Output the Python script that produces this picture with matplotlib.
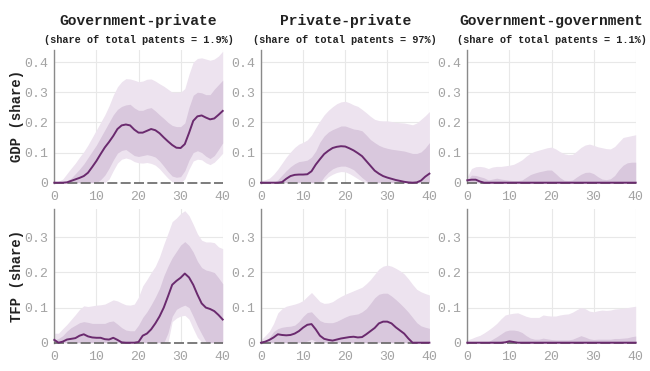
import matplotlib
matplotlib.use("Agg")
import matplotlib.pyplot as plt

# horizon (quarters)
horizon = list(range(41))

col_titles = ["Government-private", "Private-private", "Government-government"]
col_shares = ["(share of total patents = 1.9%)",
              "(share of total patents = 97%)",
              "(share of total patents = 1.1%)"]
row_labels = ["GDP (share)", "TFP (share)"]

zero = [0.0] * 41

# ---- GDP, government-private
gdp_gp_med = [0, 0, 0, 0.001, 0.006, 0.011, 0.016, 0.022, 0.033, 0.052, 0.072, 0.095, 0.117, 0.135,
              0.155, 0.178, 0.19, 0.193, 0.19, 0.176, 0.166, 0.166, 0.172, 0.178, 0.174, 0.164, 0.15,
              0.137, 0.125, 0.116, 0.115, 0.128, 0.165, 0.205, 0.22, 0.223, 0.216, 0.21, 0.213, 0.225, 0.238]
gdp_gp_hi90 = [0, 0.005, 0.012, 0.03, 0.048, 0.065, 0.085, 0.103, 0.125, 0.15, 0.175, 0.2, 0.225, 0.255,
               0.29, 0.318, 0.335, 0.345, 0.344, 0.34, 0.335, 0.337, 0.343, 0.344, 0.337, 0.328, 0.32,
               0.31, 0.3, 0.3, 0.3, 0.312, 0.36, 0.4, 0.412, 0.414, 0.41, 0.406, 0.41, 0.42, 0.436]
gdp_gp_hi68 = [0, 0.002, 0.004, 0.007, 0.015, 0.03, 0.045, 0.062, 0.083, 0.104, 0.125, 0.15, 0.175, 0.2,
               0.225, 0.243, 0.253, 0.258, 0.26, 0.248, 0.24, 0.24, 0.246, 0.249, 0.238, 0.225, 0.213,
               0.2, 0.19, 0.186, 0.186, 0.198, 0.25, 0.29, 0.3, 0.298, 0.292, 0.292, 0.31, 0.325, 0.34]
gdp_gp_lo68 = [0, 0, 0, 0, 0, 0, 0, 0, 0, 0, 0, 0.01, 0.025, 0.048, 0.075, 0.098, 0.107, 0.11, 0.1, 0.09,
               0.087, 0.09, 0.093, 0.09, 0.085, 0.072, 0.055, 0.037, 0.022, 0.018, 0.02, 0.04, 0.075,
               0.1, 0.106, 0.1, 0.088, 0.08, 0.09, 0.11, 0.132]
gdp_gp_lo90 = [0, 0, 0, 0, 0, 0, 0, 0, 0, 0, 0, 0, 0, 0.012, 0.04, 0.065, 0.078, 0.082, 0.078, 0.07,
               0.066, 0.065, 0.067, 0.064, 0.058, 0.046, 0.03, 0.015, 0.003, 0, 0, 0.012, 0.045, 0.072,
               0.078, 0.076, 0.066, 0.06, 0.068, 0.082, 0.098]

# ---- GDP, private-private
gdp_pp_med = [0, 0, 0, 0, 0, 0.002, 0.013, 0.022, 0.026, 0.027, 0.027, 0.028, 0.038, 0.06, 0.078,
              0.095, 0.106, 0.115, 0.119, 0.121, 0.12, 0.114, 0.107, 0.098, 0.088, 0.072, 0.056, 0.04,
              0.03, 0.022, 0.017, 0.013, 0.009, 0.006, 0.003, 0.001, 0, 0.001, 0.007, 0.02, 0.03]
gdp_pp_hi90 = [0.007, 0.01, 0.015, 0.028, 0.045, 0.065, 0.085, 0.102, 0.117, 0.128, 0.134, 0.142, 0.158,
               0.182, 0.205, 0.225, 0.24, 0.252, 0.262, 0.268, 0.27, 0.265, 0.258, 0.253, 0.243, 0.232,
               0.22, 0.21, 0.206, 0.205, 0.205, 0.203, 0.2, 0.199, 0.198, 0.195, 0.192, 0.198, 0.21,
               0.222, 0.236]
gdp_pp_hi68 = [0, 0, 0, 0, 0.01, 0.025, 0.04, 0.053, 0.063, 0.07, 0.072, 0.075, 0.085, 0.105, 0.135,
               0.155, 0.168, 0.176, 0.182, 0.188, 0.188, 0.183, 0.178, 0.176, 0.172, 0.158, 0.143, 0.133,
               0.124, 0.118, 0.114, 0.111, 0.109, 0.107, 0.105, 0.101, 0.097, 0.097, 0.102, 0.115, 0.133]
gdp_pp_lo68 = [0, 0, 0, 0, 0, 0, 0, 0, 0, 0, 0, 0, 0, 0, 0, 0.02, 0.035, 0.046, 0.052, 0.055, 0.055,
               0.05, 0.043, 0.03, 0.017, 0.006, 0, 0, 0, 0, 0, 0, 0, 0, 0, 0, 0, 0, 0, 0, 0]
gdp_pp_lo90 = [0, 0, 0, 0, 0, 0, 0, 0, 0, 0, 0, 0, 0, 0, 0, 0.008, 0.02, 0.028, 0.034, 0.037, 0.036,
               0.03, 0.022, 0.013, 0.005, 0, 0, 0, 0, 0, 0, 0, 0, 0, 0, 0, 0, 0, 0, 0, 0]

# ---- GDP, government-government
gdp_gg_med = [0.008, 0.01, 0.01, 0.004, 0, 0, 0, 0, 0, 0, 0, 0, 0, 0, 0, 0, 0, 0, 0, 0, 0, 0, 0, 0,
              0, 0, 0, 0, 0, 0, 0, 0, 0, 0, 0, 0, 0, 0, 0, 0, 0]
gdp_gg_hi90 = [0.02, 0.047, 0.053, 0.054, 0.052, 0.047, 0.052, 0.054, 0.054, 0.056, 0.058, 0.061, 0.068,
               0.076, 0.088, 0.098, 0.104, 0.108, 0.112, 0.116, 0.118, 0.112, 0.103, 0.096, 0.093, 0.094,
               0.105, 0.117, 0.125, 0.128, 0.124, 0.119, 0.116, 0.113, 0.112, 0.12, 0.135, 0.15, 0.153,
               0.156, 0.159]
gdp_gg_hi68 = [0.01, 0.025, 0.024, 0.02, 0.016, 0.009, 0.012, 0.015, 0.012, 0.01, 0.008, 0.007, 0.007,
               0.009, 0.018, 0.027, 0.032, 0.036, 0.039, 0.042, 0.042, 0.03, 0.017, 0.008, 0.007, 0.009,
               0.019, 0.028, 0.034, 0.035, 0.03, 0.02, 0.012, 0.01, 0.013, 0.024, 0.043, 0.058, 0.066,
               0.068, 0.068]
gdp_gg_lo68 = zero
gdp_gg_lo90 = zero

# ---- TFP, government-private
tfp_gp_med = [0.008, 0, 0.003, 0.009, 0.011, 0.013, 0.02, 0.024, 0.018, 0.015, 0.014, 0.014, 0.01, 0.009,
              0.014, 0.008, 0.001, 0, 0, 0, 0.002, 0.02, 0.026, 0.038, 0.055, 0.075, 0.1, 0.132, 0.165,
              0.176, 0.185, 0.197, 0.186, 0.165, 0.137, 0.112, 0.1, 0.096, 0.09, 0.079, 0.066]
tfp_gp_hi90 = [0.027, 0.027, 0.04, 0.052, 0.066, 0.08, 0.095, 0.105, 0.103, 0.105, 0.107, 0.108, 0.11,
               0.116, 0.122, 0.119, 0.113, 0.108, 0.107, 0.11, 0.13, 0.162, 0.18, 0.2, 0.218, 0.245, 0.28,
               0.312, 0.345, 0.355, 0.368, 0.376, 0.362, 0.337, 0.31, 0.292, 0.287, 0.287, 0.285, 0.273,
               0.268]
tfp_gp_hi68 = [0.008, 0.012, 0.02, 0.033, 0.043, 0.05, 0.057, 0.06, 0.058, 0.055, 0.055, 0.055, 0.055,
               0.06, 0.062, 0.053, 0.043, 0.036, 0.034, 0.034, 0.05, 0.072, 0.088, 0.108, 0.13, 0.155,
               0.19, 0.218, 0.242, 0.26, 0.278, 0.288, 0.277, 0.258, 0.232, 0.214, 0.207, 0.204, 0.2,
               0.185, 0.168]
tfp_gp_lo68 = [0, 0, 0, 0, 0, 0, 0, 0, 0, 0, 0, 0, 0, 0, 0, 0, 0, 0, 0, 0, 0, 0, 0, 0, 0, 0, 0, 0.028,
               0.075, 0.095, 0.102, 0.107, 0.1, 0.075, 0.048, 0.025, 0.003, 0, 0, 0, 0]
tfp_gp_lo90 = [0, 0, 0, 0, 0, 0, 0, 0, 0, 0, 0, 0, 0, 0, 0, 0, 0, 0, 0, 0, 0, 0, 0, 0, 0, 0, 0, 0,
               0.06, 0.07, 0.076, 0.078, 0.067, 0.04, 0.015, 0.002, 0, 0, 0, 0, 0]

# ---- TFP, private-private
tfp_pp_med = [0, 0.003, 0.008, 0.015, 0.024, 0.022, 0.021, 0.022, 0.026, 0.033, 0.043, 0.051, 0.053,
              0.038, 0.02, 0.011, 0.008, 0.006, 0.009, 0.012, 0.014, 0.016, 0.017, 0.015, 0.016, 0.024,
              0.033, 0.042, 0.055, 0.06, 0.06, 0.055, 0.044, 0.035, 0.026, 0.012, 0, 0, 0, 0, 0]
tfp_pp_hi90 = [0.008, 0.02, 0.033, 0.055, 0.085, 0.097, 0.104, 0.107, 0.11, 0.114, 0.12, 0.132, 0.143,
               0.13, 0.117, 0.112, 0.113, 0.117, 0.125, 0.132, 0.138, 0.143, 0.148, 0.153, 0.158, 0.168,
               0.18, 0.195, 0.21, 0.218, 0.221, 0.218, 0.212, 0.205, 0.196, 0.182, 0.166, 0.152, 0.145,
               0.14, 0.136]
tfp_pp_hi68 = [0, 0.005, 0.015, 0.032, 0.04, 0.044, 0.046, 0.047, 0.05, 0.06, 0.075, 0.086, 0.088, 0.075,
               0.063, 0.058, 0.057, 0.057, 0.061, 0.067, 0.073, 0.078, 0.08, 0.082, 0.088, 0.097, 0.112,
               0.128, 0.138, 0.141, 0.141, 0.133, 0.123, 0.112, 0.1, 0.087, 0.072, 0.057, 0.048, 0.044,
               0.041]
tfp_pp_lo68 = [0, 0, 0, 0, 0, 0, 0, 0, 0, 0, 0, 0.005, 0.01, 0.004, 0, 0, 0, 0, 0, 0, 0, 0, 0, 0, 0,
               0, 0, 0, 0, 0, 0, 0, 0, 0, 0, 0, 0, 0, 0, 0, 0]
tfp_pp_lo90 = zero

# ---- TFP, government-government
tfp_gg_med = [0, 0, 0, 0, 0, 0, 0, 0, 0, 0.001, 0.004, 0.002, 0, 0, 0, 0, 0, 0, 0, 0, 0, 0, 0, 0, 0,
              0, 0, 0, 0, 0, 0, 0, 0, 0, 0, 0, 0, 0, 0, 0, 0]
tfp_gg_hi90 = [0.008, 0.012, 0.017, 0.021, 0.028, 0.036, 0.045, 0.055, 0.068, 0.079, 0.082, 0.084, 0.085,
               0.08, 0.075, 0.072, 0.072, 0.072, 0.079, 0.077, 0.076, 0.076, 0.079, 0.081, 0.082, 0.087,
               0.094, 0.1, 0.097, 0.09, 0.088, 0.091, 0.093, 0.092, 0.093, 0.096, 0.097, 0.098, 0.1,
               0.102, 0.104]
tfp_gg_hi68 = [0.001, 0.001, 0.001, 0.001, 0.002, 0.003, 0.01, 0.017, 0.025, 0.033, 0.036, 0.036, 0.034,
               0.029, 0.02, 0.013, 0.01, 0.01, 0.013, 0.011, 0.009, 0.008, 0.008, 0.008, 0.008, 0.01,
               0.015, 0.02, 0.016, 0.011, 0.009, 0.01, 0.01, 0.01, 0.01, 0.012, 0.012, 0.013, 0.014,
               0.017, 0.019]
tfp_gg_lo68 = zero
tfp_gg_lo90 = zero

panels = [
    [(gdp_gp_med, gdp_gp_lo68, gdp_gp_hi68, gdp_gp_lo90, gdp_gp_hi90),
     (gdp_pp_med, gdp_pp_lo68, gdp_pp_hi68, gdp_pp_lo90, gdp_pp_hi90),
     (gdp_gg_med, gdp_gg_lo68, gdp_gg_hi68, gdp_gg_lo90, gdp_gg_hi90)],
    [(tfp_gp_med, tfp_gp_lo68, tfp_gp_hi68, tfp_gp_lo90, tfp_gp_hi90),
     (tfp_pp_med, tfp_pp_lo68, tfp_pp_hi68, tfp_pp_lo90, tfp_pp_hi90),
     (tfp_gg_med, tfp_gg_lo68, tfp_gg_hi68, tfp_gg_lo90, tfp_gg_hi90)],
]

row_ylim = [0.44, 0.38]
row_yticks = [[0, 0.1, 0.2, 0.3, 0.4], [0, 0.1, 0.2, 0.3]]
row_yticklabels = [["0", "0.1", "0.2", "0.3", "0.4"], ["0", "0.1", "0.2", "0.3"]]
xticks = [0, 10, 20, 30, 40]
xticklabels = ["0", "10", "20", "30", "40"]

mono = "Liberation Mono"
line_col = "#6a2a6e"
band90_col = "#ede3ef"
band68_col = "#d9c8dd"
tick_col = "#a3a3a3"

W, H = 650, 371
fig = plt.figure(figsize=(W / 100, H / 100), dpi=100)

col_left = [54.3, 261.0, 467.3]
ax_w = 168.4
row_top = [50.0, 209.3]
row_bot = [182.7, 342.7]

for r in range(2):
    for c in range(3):
        med, lo68, hi68, lo90, hi90 = panels[r][c]
        ax = fig.add_axes([col_left[c] / W, 1 - row_bot[r] / H, ax_w / W, (row_bot[r] - row_top[r]) / H])
        ax.fill_between(horizon, lo90, hi90, color=band90_col, lw=0, zorder=1)
        ax.fill_between(horizon, lo68, hi68, color=band68_col, lw=0, zorder=2)
        ax.axhline(0, color="#666666", lw=1.2, dashes=(6, 2), zorder=3, clip_on=False)
        ax.plot(horizon, med, color=line_col, lw=1.4, zorder=4, clip_on=False)
        ax.set_xlim(0, 40)
        ax.set_ylim(0, row_ylim[r])
        ax.set_xticks(xticks)
        ax.set_xticklabels(xticklabels, family=mono, fontsize=9.5, color=tick_col)
        ax.set_yticks(row_yticks[r])
        ax.set_yticklabels(row_yticklabels[r], family=mono, fontsize=9.5, color=tick_col)
        ax.tick_params(length=0)
        ax.tick_params(axis="x", pad=6)
        ax.tick_params(axis="y", pad=4)
        ax.grid(True, color="#e8e8e8", lw=0.8, zorder=0)
        ax.set_axisbelow(True)
        for s in ["top", "right", "bottom"]:
            ax.spines[s].set_visible(False)
        ax.spines["left"].set_color("#8a8a8a")
        ax.spines["left"].set_linewidth(1.0)

for c in range(3):
    cx = (col_left[c] + ax_w / 2) / W
    fig.text(cx, 1 - 21.5 / H, col_titles[c], family=mono, fontweight="bold", fontsize=10.5,
             ha="center", va="center", color="#222222")
    fig.text(cx, 1 - 40 / H, col_shares[c], family=mono, fontweight="bold", fontsize=7.4,
             ha="center", va="center", color="#222222")

for r in range(2):
    cy = 1 - (row_top[r] + row_bot[r]) / 2 / H
    fig.text(17 / W, cy, row_labels[r], family=mono, fontweight="bold", fontsize=10,
             rotation=90, ha="center", va="center", color="#222222")

fig.savefig("out.png", dpi=100)
